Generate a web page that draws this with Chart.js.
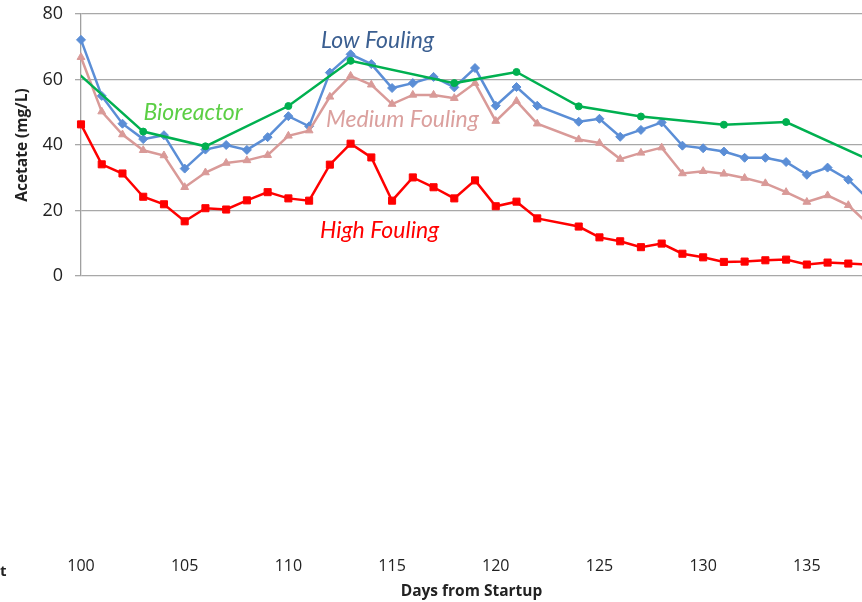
<!DOCTYPE html>
<html lang="en">
<head>
  <meta charset="UTF-8">
  <title>Acetate vs days from startup</title>
  <script src="https://cdn.jsdelivr.net/npm/chart.js"></script>
  <style>
    body { margin: 0; background: #fff; }
    #wrap { width: 862px; height: 602px; }
  </style>
</head>
<body>
  <div id="wrap"><canvas id="chart"></canvas></div>

  <script>
    // days sampled for the three fouling series (no sample on day 123)
    const days = [100, 101, 102, 103, 104, 105, 106, 107, 108, 109,
                  110, 111, 112, 113, 114, 115, 116, 117, 118, 119,
                  120, 121, 122, 124, 125, 126, 127, 128, 129, 130,
                  131, 132, 133, 134, 135, 136, 137, 138];
    const lowFouling = [72.1, 55.0, 46.5, 41.8, 43.0, 32.8, 38.6, 40.0, 38.5, 42.4,
                        48.8, 45.7, 62.1, 67.7, 64.7, 57.4, 58.9, 60.8, 57.6, 63.5,
                        52.0, 57.7, 52.0, 47.1, 48.0, 42.5, 44.6, 46.9, 39.8, 39.0,
                        38.0, 36.1, 36.1, 34.8, 30.9, 33.1, 29.4, 23.3];
    const mediumFouling = [66.8, 50.2, 43.2, 38.4, 36.8, 27.1, 31.6, 34.5, 35.3, 36.9,
                           42.8, 44.4, 54.7, 61.1, 58.4, 52.5, 55.3, 55.3, 54.3, 58.9,
                           47.3, 53.4, 46.5, 41.7, 40.6, 35.7, 37.6, 39.2, 31.3, 32.0,
                           31.2, 29.9, 28.3, 25.6, 22.6, 24.6, 21.6, 15.6];
    const highFouling = [46.3, 34.1, 31.3, 24.2, 21.9, 16.7, 20.7, 20.3, 23.1, 25.6,
                         23.7, 23.0, 34.0, 40.4, 36.2, 23.0, 30.1, 27.1, 23.7, 29.2,
                         21.3, 22.7, 17.6, 15.1, 11.8, 10.6, 8.8, 9.9, 6.8, 5.7,
                         4.3, 4.4, 4.8, 5.0, 3.5, 4.1, 3.8, 3.5];

    const bioDays = [99, 103, 106, 110, 113, 118, 121, 124, 127, 131, 134, 138];
    const bioreactor = [66.8, 44.1, 39.6, 51.9, 65.7, 58.9, 62.3, 51.8, 48.7, 46.2, 47.0, 35.5];

    const yTicks = [0, 20, 40, 60, 80];

    // in-plot series names, anchored in data units [day, mg/L]
    const seriesLabels = [
      { text: "Low Fouling", day: 114.3, value: 71.8, color: "#3b5f91" },
      { text: "Bioreactor", day: 105.4, value: 49.8, color: "#5ccf45" },
      { text: "Medium Fouling", day: 115.5, value: 47.7, color: "#dba09e" },
      { text: "High Fouling", day: 114.4, value: 13.9, color: "#ff0000" }
    ];

    const pairs = (xs, ys) => xs.map((x, i) => ({ x: x, y: ys[i] }));

    const labelPlugin = {
      id: "seriesLabels",
      afterDatasetsDraw(chart) {
        const ctx = chart.ctx;
        const xs = chart.scales.x, ys = chart.scales.y;
        ctx.save();
        ctx.font = "italic 23px Lato";
        ctx.textAlign = "center";
        ctx.textBaseline = "middle";
        seriesLabels.forEach(l => {
          ctx.fillStyle = l.color;
          ctx.fillText(l.text, xs.getPixelForValue(l.day), ys.getPixelForValue(l.value));
        });
        // cut-off text fragment at the lower left
        ctx.font = "bold 15px 'Open Sans'";
        ctx.fillStyle = "#222";
        ctx.textAlign = "left";
        ctx.fillText("t", 0, 572);
        ctx.restore();
      }
    };

    const line = (data, color, style, radius, clip) => ({
      data: data,
      borderColor: color,
      backgroundColor: color,
      borderWidth: 2.5,
      pointStyle: style,
      pointRadius: radius,
      pointBorderWidth: 1,
      tension: 0,
      clip: clip
    });

    const markClip = { left: 8, right: 0, top: 8, bottom: 8 };

    new Chart(document.getElementById("chart"), {
      type: "line",
      data: {
        datasets: [
          line(pairs(bioDays, bioreactor), "#00b050", "circle", 3.5, { left: 0, right: 0, top: 8, bottom: 8 }),
          line(pairs(days, mediumFouling), "#d99a98", "triangle", 4.5, markClip),
          line(pairs(days, lowFouling), "#5b8ed6", "rectRot", 4.5, markClip),
          line(pairs(days, highFouling), "#ff0000", "rect", 5, markClip)
        ]
      },
      options: {
        responsive: true,
        maintainAspectRatio: false,
        animation: false,
        layout: { autoPadding: false, padding: { top: 14, right: 0, bottom: 0, left: 0 } },
        plugins: { legend: { display: false }, tooltip: { enabled: false } },
        scales: {
          x: {
            type: "linear",
            min: 100,
            max: 137.66,
            afterFit(scale) {
              scale.height = 326;
              scale.paddingLeft = 0;
              scale.paddingRight = 0;
            },
            border: { display: false },
            // invisible long tick marks push the labels far below the plot
            grid: { display: true, drawOnChartArea: false, drawTicks: true, tickLength: 278, color: "rgba(0,0,0,0)" },
            ticks: {
              stepSize: 5,
              includeBounds: false,
              padding: 3,
              color: "#222",
              font: { family: "'Open Sans'", size: 16 }
            },
            title: {
              display: true,
              text: "Days from Startup",
              color: "#222",
              font: { family: "'Open Sans'", size: 15.5, weight: "bold" },
              padding: { top: 1, bottom: 1 }
            }
          },
          y: {
            min: 0,
            max: 80,
            afterFit(scale) {
              scale.width = 81;
              scale.paddingTop = 0;
              scale.paddingBottom = 0;
            },
            afterBuildTicks(scale) { scale.ticks = yTicks.map(v => ({ value: v })); },
            border: { display: true, color: "#a0a0a0", width: 1.3 },
            grid: { color: "#a8a8a8", lineWidth: 1.3, tickLength: 6, drawTicks: true },
            ticks: {
              padding: 12,
              color: "#222",
              font: { family: "'Open Sans'", size: 18 }
            },
            title: {
              display: true,
              text: "Acetate (mg/L)",
              color: "#222",
              font: { family: "'Open Sans'", size: 15.5, weight: "bold" },
              padding: { top: 13, bottom: 0 }
            }
          }
        }
      },
      plugins: [labelPlugin]
    });
  </script>
</body>
</html>
